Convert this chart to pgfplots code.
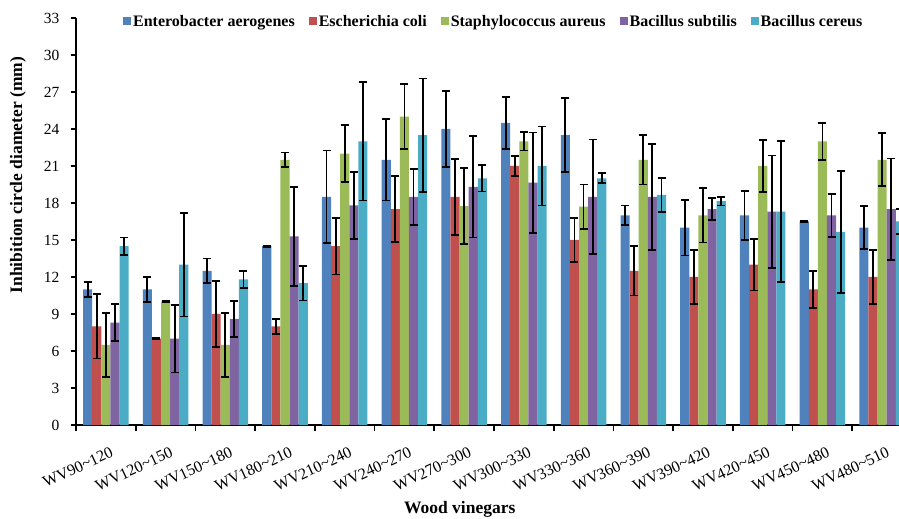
\documentclass[border=0pt]{standalone}
\usepackage{fontspec}
\setmainfont{Liberation Serif}
\usepackage{pgfplots}
\pgfplotsset{compat=1.18}

\definecolor{cEA}{HTML}{4F81BD}
\definecolor{cEC}{HTML}{C0504D}
\definecolor{cSA}{HTML}{9BBB59}
\definecolor{cBS}{HTML}{8064A2}
\definecolor{cBC}{HTML}{4BACC6}

\begin{document}
\begin{tikzpicture}
\path[use as bounding box] (-76pt,-94pt) rectangle (823pt,425pt);
\clip (-76pt,-94pt) rectangle (823pt,425pt);
\begin{axis}[
    scale only axis,
    width=836pt, height=407pt,
    at={(0pt,0pt)}, anchor=south west,
    xmin=-0.5, xmax=13.5,
    ymin=0, ymax=33,
    ytick={0,3,...,33},
    xtick={0,...,13},
    xticklabels={WV90\textasciitilde 120,WV120\textasciitilde 150,WV150\textasciitilde 180,WV180\textasciitilde 210,WV210\textasciitilde 240,WV240\textasciitilde 270,WV270\textasciitilde 300,WV300\textasciitilde 330,WV330\textasciitilde 360,WV360\textasciitilde 390,WV390\textasciitilde 420,WV420\textasciitilde 450,WV450\textasciitilde 480,WV480\textasciitilde 510},
    minor xtick={-0.5,0.5,...,13.5},
    major x tick style={draw=none},
    minor x tick style={line width=1.8pt, black},
    minor tick length=6pt,
    major tick length=5pt,
    tick align=outside,
    y tick style={line width=1.8pt, black},
    axis x line*=bottom, axis y line*=left,
    axis line style={line width=2pt, black, -},
    /pgf/number format/assume math mode=true,
    yticklabel style={font=\fontsize{15.5}{18}\selectfont, xshift=-8pt},
    xticklabel style={font=\fontsize{16}{19}\selectfont, rotate=25, anchor=north east, xshift=0pt, yshift=-13pt},
    ylabel={\textbf{Inhibition circle diameter (mm)}},
    ylabel style={font=\fontsize{17.5}{20}\selectfont, at={(axis description cs:-0.0694,0.614)}, anchor=center, rotate=0},
    xlabel={\textbf{Wood vinegars}},
    xlabel style={font=\fontsize{17.5}{20}\selectfont, at={(axis description cs:0.459,-0.208)}, anchor=center},
    ybar, bar width=0.1525,
    legend columns=-1,
    legend style={draw=none, fill=none, font=\bfseries\fontsize{16}{19}\selectfont,
        at={(axis description cs:0.0562,0.992)}, anchor=west, inner sep=0pt,
        /tikz/every even column/.append style={column sep=12pt}},
    legend image code/.code={\fill[#1] (0pt,-4pt) rectangle (8pt,4pt);},
    error bars/y dir=both, error bars/y explicit,
    error bars/error bar style={line width=1.8pt, black},
    error bars/error mark options={rotate=90, mark size=4pt, line width=1.8pt, black},
]
% Enterobacter aerogenes
\addplot[fill=cEA, draw=none, bar shift=-0.305] coordinates {
    (0,11) +- (0,0.6) (1,11) +- (0,1.0) (2,12.5) +- (0,1.0) (3,14.5) +- (0,0.05)
    (4,18.5) +- (0,3.75) (5,21.5) +- (0,3.3) (6,24) +- (0,3.1) (7,24.5) +- (0,2.1)
    (8,23.5) +- (0,3.0) (9,17) +- (0,0.8) (10,16) +- (0,2.25) (11,17) +- (0,2.0)
    (12,16.5) +- (0,0.05) (13,16) +- (0,1.75)
};
% Escherichia coli
\addplot[fill=cEC, draw=none, bar shift=-0.1525] coordinates {
    (0,8) +- (0,2.6) (1,7) +- (0,0.05) (2,9) +- (0,2.65) (3,8) +- (0,0.6)
    (4,14.5) +- (0,2.3) (5,17.5) +- (0,2.67) (6,18.5) +- (0,3.07) (7,21) +- (0,0.8)
    (8,15) +- (0,1.8) (9,12.5) +- (0,2.0) (10,12) +- (0,2.2) (11,13) +- (0,2.1)
    (12,11) +- (0,1.5) (13,12) +- (0,2.2)
};
% Staphylococcus aureus
\addplot[fill=cSA, draw=none, bar shift=0] coordinates {
    (0,6.5) +- (0,2.6) (1,10) +- (0,0.05) (2,6.5) +- (0,2.6) (3,21.5) +- (0,0.6)
    (4,22) +- (0,2.3) (5,25) +- (0,2.65) (6,17.75) +- (0,3.07) (7,23) +- (0,0.75)
    (8,17.7) +- (0,1.8) (9,21.5) +- (0,2.0) (10,17) +- (0,2.2) (11,21) +- (0,2.1)
    (12,23) +- (0,1.5) (13,21.5) +- (0,2.15)
};
% Bacillus subtilis
\addplot[fill=cBS, draw=none, bar shift=0.1525] coordinates {
    (0,8.3) +- (0,1.5) (1,7) +- (0,2.75) (2,8.6) +- (0,1.46) (3,15.3) +- (0,4.0)
    (4,17.8) +- (0,2.7) (5,18.5) +- (0,2.27) (6,19.3) +- (0,4.1) (7,19.65) +- (0,4.06)
    (8,18.5) +- (0,4.65) (9,18.5) +- (0,4.3) (10,17.5) +- (0,0.9) (11,17.3) +- (0,4.55)
    (12,17) +- (0,1.75) (13,17.5) +- (0,4.1)
};
% Bacillus cereus
\addplot[fill=cBC, draw=none, bar shift=0.305] coordinates {
    (0,14.5) +- (0,0.7) (1,13) +- (0,4.2) (2,11.8) +- (0,0.7) (3,11.5) +- (0,1.4)
    (4,23) +- (0,4.8) (5,23.5) +- (0,4.6) (6,20) +- (0,1.07) (7,21) +- (0,3.2)
    (8,20) +- (0,0.4) (9,18.65) +- (0,1.4) (10,18.15) +- (0,0.35) (11,17.3) +- (0,5.7)
    (12,15.65) +- (0,4.95) (13,16.5) +- (0,1.0)
};
\legend{Enterobacter aerogenes, Escherichia coli, Staphylococcus aureus, Bacillus subtilis, Bacillus cereus}
\end{axis}
\end{tikzpicture}
\end{document}
